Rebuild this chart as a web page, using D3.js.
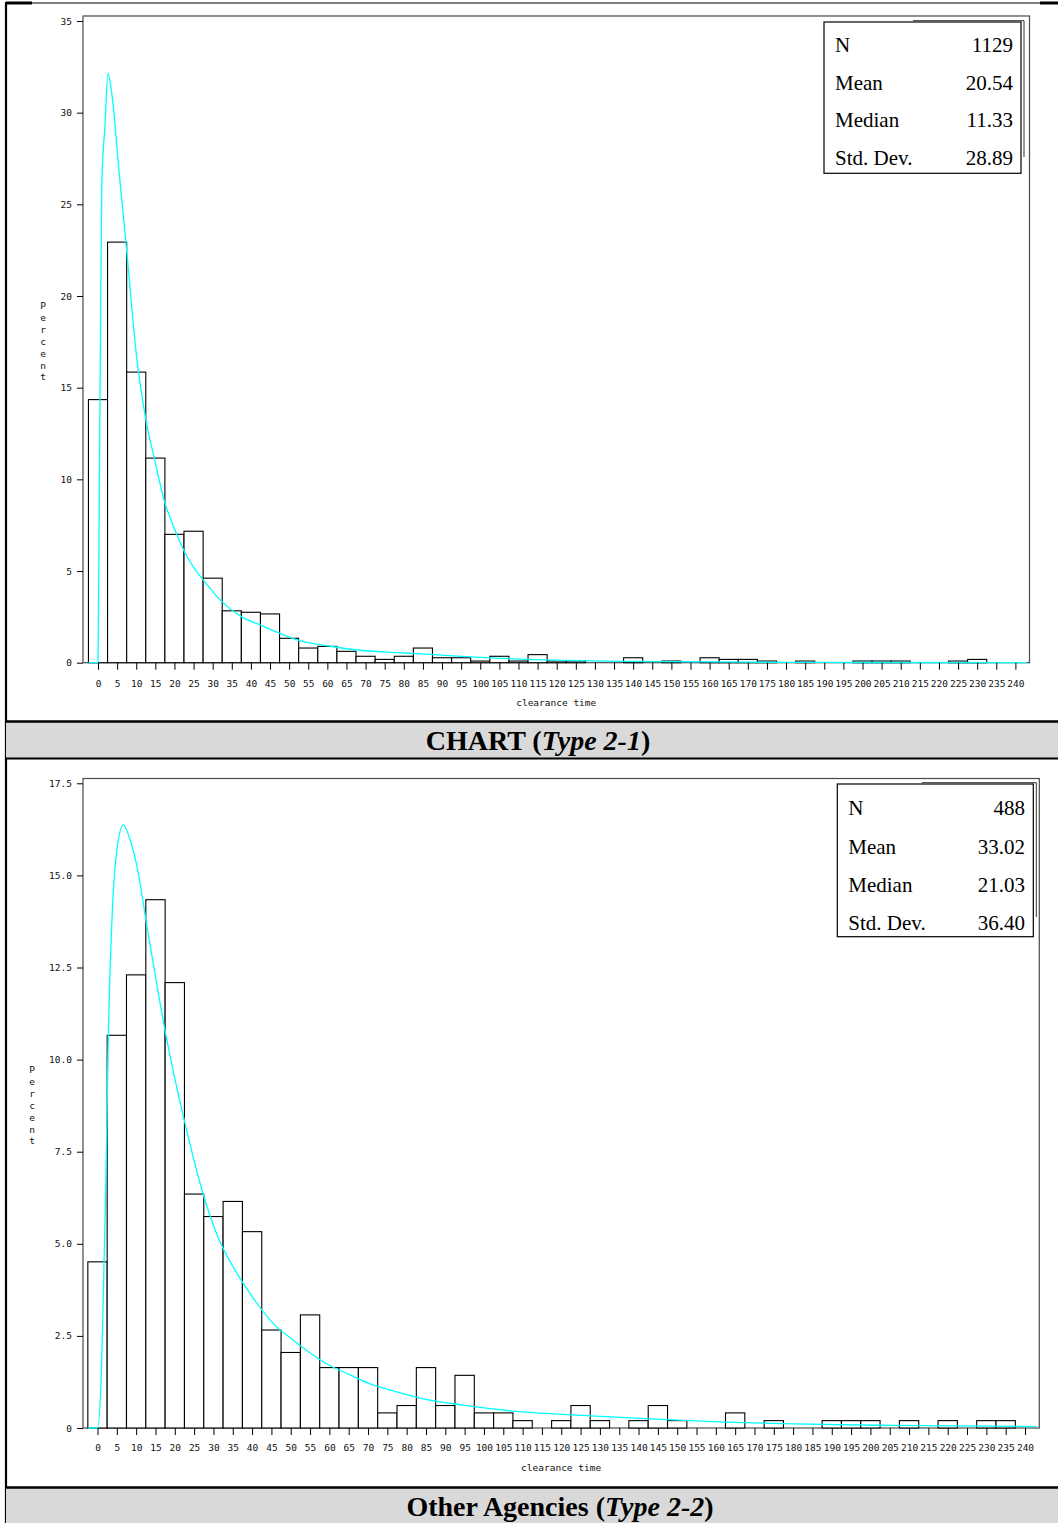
<!DOCTYPE html>
<html>
<head>
<meta charset="utf-8">
<script src="https://cdn.jsdelivr.net/npm/d3@7/dist/d3.min.js"></script>
<style>
  body { margin: 0; background: #fff; }
  svg { display: block; }
  .frame { fill: none; stroke: #4a4a4a; stroke-width: 1.2; }
  .bar { fill: #fff; stroke: #000; stroke-width: 1.1; }
  .fit { fill: none; stroke: #00ffff; stroke-width: 1.3; }
  .mono { font-family: 'DejaVu Sans Mono', monospace; font-size: 9.5px; fill: #111; }
  .stats text { font-family: 'Liberation Serif', 'Times New Roman', serif; font-size: 21px; fill: #000; }
  .caption { font-family: 'Liberation Serif', 'Times New Roman', serif; font-size: 28px; font-weight: bold; fill: #000; }
</style>
</head>
<body>
<div id="page"></div>
<script>
// clearance time bins (midpoints, minutes)
var bins = [0, 5, 10, 15, 20, 25, 30, 35, 40, 45, 50, 55, 60, 65, 70, 75, 80, 85, 90, 95,
  100, 105, 110, 115, 120, 125, 130, 135, 140, 145, 150, 155, 160, 165, 170, 175, 180, 185, 190, 195,
  200, 205, 210, 215, 220, 225, 230, 235, 240];

// percent of incidents per bin
var chartPct = [14.35, 22.94, 15.85, 11.16, 7.00, 7.17, 4.61, 2.83, 2.75, 2.66,
  1.33, 0.80, 0.89, 0.62, 0.35, 0.18, 0.35, 0.80, 0.27, 0.27,
  0.09, 0.35, 0.09, 0.44, 0.09, 0.09, 0, 0, 0.27, 0,
  0.09, 0, 0.27, 0.18, 0.18, 0.09, 0, 0.09, 0, 0,
  0.09, 0.09, 0.09, 0, 0, 0.09, 0.18, 0, 0];
var otherPct = [4.51, 10.66, 12.30, 14.34, 12.09, 6.35, 5.74, 6.15, 5.33, 2.66,
  2.05, 3.07, 1.64, 1.64, 1.64, 0.41, 0.61, 1.64, 0.61, 1.43,
  0.41, 0.41, 0.20, 0, 0.20, 0.61, 0.20, 0, 0.20, 0.61,
  0.20, 0, 0, 0.41, 0, 0.20, 0, 0, 0.20, 0.20,
  0.20, 0, 0.20, 0, 0.20, 0, 0.20, 0.20, 0];

// fitted density curve (cyan)
var chartCurveX = [-2.5, 0, 0.3, 0.6, 1.0, 1.8, 2.6, 3.7, 5.5, 7.4, 10.2, 12.4, 15, 17.3, 20, 22.4, 25, 27.6,
  32.4, 37.6, 42.4, 47.6, 52.8, 61.5, 68.5, 80, 87, 95, 104, 112, 121, 130, 139, 160, 180, 200, 243];
var chartCurveY = [0, 0, 8, 16.5, 26.2, 29.2, 32.15, 30.9, 26.8, 22.7, 16.5, 13.4, 10.9, 8.87, 7.3, 6.15, 5.2, 4.5,
  3.33, 2.5, 2.06, 1.6, 1.2, 0.87, 0.68, 0.53, 0.45, 0.35, 0.25, 0.18, 0.13, 0.1, 0.07, 0.04, 0.02, 0.01, 0.005];
var otherCurveX = [-2.5, 0, 1.0, 1.6, 2.2, 2.8, 3.9, 5.1, 6.7, 8.4, 10.2, 12.8, 17.6, 22.8, 27.2, 31.1, 35.8, 40.6,
  45.8, 50.6, 55.4, 60.6, 65.4, 70.2, 77.2, 85, 94.6, 108.5, 127.7, 145.1, 162.5, 179.9, 206, 243];
var otherCurveY = [0, 0, 1.5, 4, 6.9, 10.6, 14.17, 15.75, 16.37, 15.98, 15.25, 13.62, 10.72, 8.2, 6.4, 5.2, 4.25, 3.48,
  2.8, 2.39, 2.01, 1.67, 1.44, 1.21, 0.99, 0.78, 0.62, 0.45, 0.33, 0.24, 0.16, 0.11, 0.07, 0.04];

var chartYTicks = [0, 5, 10, 15, 20, 25, 30, 35];
var otherYTicks = [0, 2.5, 5, 7.5, 10, 12.5, 15, 17.5];

var statLabels = ['N', 'Mean', 'Median', 'Std. Dev.'];
var chartStats = ['1129', '20.54', '11.33', '28.89'];
var otherStats = ['488', '33.02', '21.03', '36.40'];

var W = 1058, H = 1523;

var svg = d3.select('#page').append('svg')
  .attr('width', W)
  .attr('height', H);

function drawPanel(p) {
  var g = svg.append('g');

  var x = d3.scaleLinear().domain([0, 240]).range([p.x0, p.x240]);
  var y = d3.scaleLinear().domain([0, p.yMax]).range([p.y0, p.yMaxPx]);

  // plot frame
  g.append('rect')
    .attr('class', 'frame')
    .attr('x', p.left)
    .attr('y', p.top)
    .attr('width', p.right - p.left)
    .attr('height', p.y0 - p.top);

  // bars
  g.append('g').selectAll('rect').data(p.values).enter().append('rect')
    .attr('class', 'bar')
    .attr('x', function(d, i) { return x(bins[i] - 2.5); })
    .attr('width', function(d, i) { return x(bins[i] + 2.5) - x(bins[i] - 2.5); })
    .attr('y', function(d) { return y(d); })
    .attr('height', function(d) { return p.y0 - y(d); });

  // fitted curve
  var pts = p.curveX.map(function(v, i) { return [v, p.curveY[i]]; });
  g.append('path')
    .datum(pts)
    .attr('class', 'fit')
    .attr('d', d3.line()
      .x(function(d) { return x(d[0]); })
      .y(function(d) { return y(d[1]); })
      .curve(d3.curveMonotoneX));

  // x axis
  var xa = g.append('g')
    .attr('transform', 'translate(0,' + p.y0 + ')')
    .call(d3.axisBottom(x).tickValues(bins).tickSize(7).tickSizeOuter(0).tickFormat(d3.format('d')));
  xa.select('.domain').remove();
  xa.selectAll('.tick line').attr('stroke', '#000');
  xa.selectAll('.tick text').attr('class', 'mono').attr('y', p.xLabelDy).attr('font-size', null).attr('font-family', null);
  xa.attr('font-size', null).attr('font-family', null);

  // y axis
  var ya = g.append('g')
    .attr('transform', 'translate(' + p.left + ',0)')
    .call(d3.axisLeft(y).tickValues(p.yTicks).tickSize(6).tickSizeOuter(0).tickFormat(p.yFormat));
  ya.select('.domain').remove();
  ya.selectAll('.tick line').attr('stroke', '#000');
  ya.selectAll('.tick text').attr('class', 'mono').attr('x', -11);
  ya.attr('font-size', null).attr('font-family', null);

  // axis titles
  g.append('text')
    .attr('class', 'mono')
    .attr('x', (p.left + p.right) / 2)
    .attr('y', p.xTitleY)
    .attr('text-anchor', 'middle')
    .text('clearance time');
  g.selectAll('.ylet').data('Percent'.split('')).enter().append('text')
    .attr('class', 'mono')
    .attr('x', p.yTitleX)
    .attr('y', function(d, i) { return p.yTitleY + i * 11.9; })
    .attr('text-anchor', 'middle')
    .text(function(d) { return d; });

  // stats box
  var b = p.box;
  var sg = g.append('g').attr('class', 'stats');
  sg.append('rect')
    .attr('x', b.x1).attr('y', b.y1)
    .attr('width', b.x2 - b.x1).attr('height', b.y2 - b.y1)
    .attr('fill', '#fff').attr('stroke', '#000').attr('stroke-width', 1.2);
  // second edge of the box (left over from the page layout)
  sg.append('path')
    .attr('d', 'M' + b.edgeX0 + ',' + (b.y1 - 1.3) + 'H' + (b.x2 + 3) + 'V' + b.edgeY2)
    .attr('fill', 'none').attr('stroke', '#333').attr('stroke-width', 1);
  sg.selectAll('.lab').data(statLabels).enter().append('text')
    .attr('x', b.labelX)
    .attr('y', function(d, i) { return b.rows[i] + 7; })
    .text(function(d) { return d; });
  sg.selectAll('.val').data(p.stats).enter().append('text')
    .attr('x', b.valueX)
    .attr('y', function(d, i) { return b.rows[i] + 7; })
    .attr('text-anchor', 'end')
    .text(function(d) { return d; });
}

function drawCaption(c) {
  svg.append('rect')
    .attr('x', 6).attr('y', c.y1)
    .attr('width', W - 6).attr('height', c.y2 - c.y1)
    .attr('fill', '#d9d9d9');
  svg.append('line')
    .attr('x1', 6).attr('x2', W).attr('y1', c.y1).attr('y2', c.y1)
    .attr('stroke', '#000').attr('stroke-width', 2.5);
  if (c.closed) {
    svg.append('line')
      .attr('x1', 6).attr('x2', W).attr('y1', c.y2).attr('y2', c.y2)
      .attr('stroke', '#000').attr('stroke-width', 2);
  }
  var t = svg.append('text')
    .attr('class', 'caption')
    .attr('x', c.cx)
    .attr('y', c.cy + 9.5)
    .attr('text-anchor', 'middle');
  t.append('tspan').text(c.name + ' (');
  t.append('tspan').attr('font-style', 'italic').text(c.type);
  t.append('tspan').text(')');
}

// page borders
svg.append('line').attr('x1', 6).attr('x2', 6).attr('y1', 2).attr('y2', H)
  .attr('stroke', '#000').attr('stroke-width', 2.2);
svg.append('line').attr('x1', 6).attr('x2', W).attr('y1', 3).attr('y2', 3)
  .attr('stroke', '#000').attr('stroke-width', 1.2);
svg.append('line').attr('x1', 6).attr('x2', 32).attr('y1', 3).attr('y2', 3)
  .attr('stroke', '#000').attr('stroke-width', 3);
svg.append('line').attr('x1', 1040).attr('x2', W).attr('y1', 3).attr('y2', 3)
  .attr('stroke', '#000').attr('stroke-width', 3);

drawPanel({
  values: chartPct, curveX: chartCurveX, curveY: chartCurveY,
  yTicks: chartYTicks, yMax: 35, yFormat: d3.format('d'), stats: chartStats,
  x0: 98, x240: 1015.4, left: 83, right: 1029.5, top: 16,
  y0: 662.7, yMaxPx: 21,
  xLabelDy: 17.5, xTitleY: 706, yTitleX: 43, yTitleY: 309,
  box: { x1: 824, y1: 22, x2: 1021, y2: 173.3, edgeX0: 913, edgeY2: 157,
    labelX: 835, valueX: 1013, rows: [45, 83.3, 120, 158.3] }
});

drawPanel({
  values: otherPct, curveX: otherCurveX, curveY: otherCurveY,
  yTicks: otherYTicks, yMax: 17.5, yFormat: function(d) { return d === 0 ? '0' : d3.format('.1f')(d); },
  stats: otherStats,
  x0: 97.5, x240: 1025, left: 83, right: 1039.3, top: 778.5,
  y0: 1428, yMaxPx: 783.3,
  xLabelDy: 16, xTitleY: 1471, yTitleX: 32, yTitleY: 1073,
  box: { x1: 837.3, y1: 784, x2: 1033.3, y2: 936.7, edgeX0: 921.7, edgeY2: 917,
    labelX: 848.3, valueX: 1025, rows: [808, 846.7, 885, 923.3] }
});

drawCaption({ y1: 721.5, y2: 758.5, closed: true, cx: 538, cy: 740, name: 'CHART', type: 'Type 2-1' });
drawCaption({ y1: 1487.5, y2: H, closed: false, cx: 560, cy: 1506, name: 'Other Agencies', type: 'Type 2-2' });
</script>
</body>
</html>
